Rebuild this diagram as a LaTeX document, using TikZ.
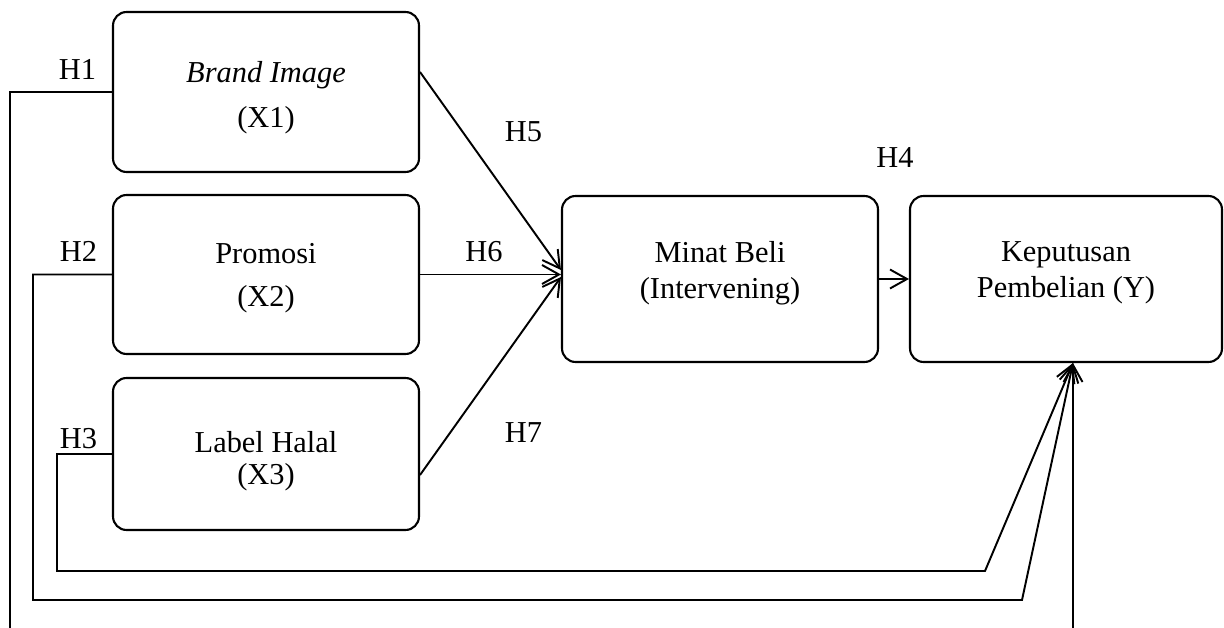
\documentclass[tikz,border=0pt]{standalone}
\usepackage{fontspec}
\setmainfont{Liberation Serif}
\usetikzlibrary{arrows.meta}

\begin{document}
\begin{tikzpicture}[
  x=0.02cm, y=-0.02cm,
  font=\fontsize{17.3}{20.5}\selectfont,
  >={Straight Barb[length=3.4mm,width=3.8mm]},
  box/.style = {rectangle, rounded corners=2.7mm, draw=black, line width=1.2pt,
                minimum width=6.12cm, inner sep=0pt},
  txt/.style = {align=center, inner sep=0pt},
  hyp/.style = {anchor=base, inner sep=0pt},
  fl/.style  = {->, line width=1.1pt}
]
\useasboundingbox (0,0) rectangle (1224,628);

% --- Variabel bebas ----------------------------------------------------------
\node[box, minimum height=3.2cm]  (x1) at (266,92)  {};
\node[box, minimum height=3.18cm] (x2) at (266,274.5) {};
\node[box, minimum height=3.04cm] (x3) at (266,454) {};
\node[txt] (x1t) at (266,97.8)  {\textit{Brand Image}\\[5pt](X1)};
\node[txt] (x2t) at (266,277.8) {Promosi\\[4pt](X2)};
\node[txt] (x3t) at (266,461.3) {Label Halal\\[-2.3pt](X3)};

% --- Intervening dan variabel terikat ----------------------------------------
\node[box, minimum width=6.32cm, minimum height=3.32cm] (minat) at (720,279) {};
\node[box, minimum width=6.24cm, minimum height=3.32cm] (kep)   at (1066,279) {};
\node[txt] (minatt) at (720,273.3)  {Minat Beli\\(Intervening)};
\node[txt] (kept)   at (1066,272.8) {Keputusan\\Pembelian (Y)};

% --- Label hipotesis ---------------------------------------------------------
\node[hyp] (h1) at (77.5,80)  {H1};
\node[hyp] (h2) at (78.5,262) {H2};
\node[hyp] (h3) at (78.5,448) {H3};
\node[hyp] (h4) at (895,168)  {H4};
\node[hyp] (h5) at (523.5,142) {H5};
\node[hyp] (h6) at (484,262)  {H6};
\node[hyp] (h7) at (523.5,442) {H7};

% --- Titik bantu jalur bawah -------------------------------------------------
\coordinate (tip) at ([xshift=0.14cm]kep.south);
\coordinate (h1a) at (10,650);
\coordinate (h2a) at (33,600);
\coordinate (h2b) at (1022,600);
\coordinate (h3a) at (57,571);
\coordinate (h3b) at (985,571);

% --- Panah ke Minat Beli -----------------------------------------------------
\draw[fl] ([yshift=0.4cm]x1.east) -- ([yshift=0.18cm]minat.west);
\draw[fl] (x2.east) -- (x2.east -| minat.west);
\draw[fl] ([yshift=-0.42cm]x3.east) -- ([yshift=0.04cm]minat.west);
\draw[fl] (minat.east) -- (kep.west);

% --- Jalur langsung ke Keputusan Pembelian -----------------------------------
\draw[fl] (x1.west) -| (h1a) -| (tip);
\draw[fl] (x2.west) -| (h2a) -- (h2b) -- (tip);
\draw[fl] (x3.west) -| (h3a) -- (h3b) -- (tip);

\end{tikzpicture}
\end{document}
